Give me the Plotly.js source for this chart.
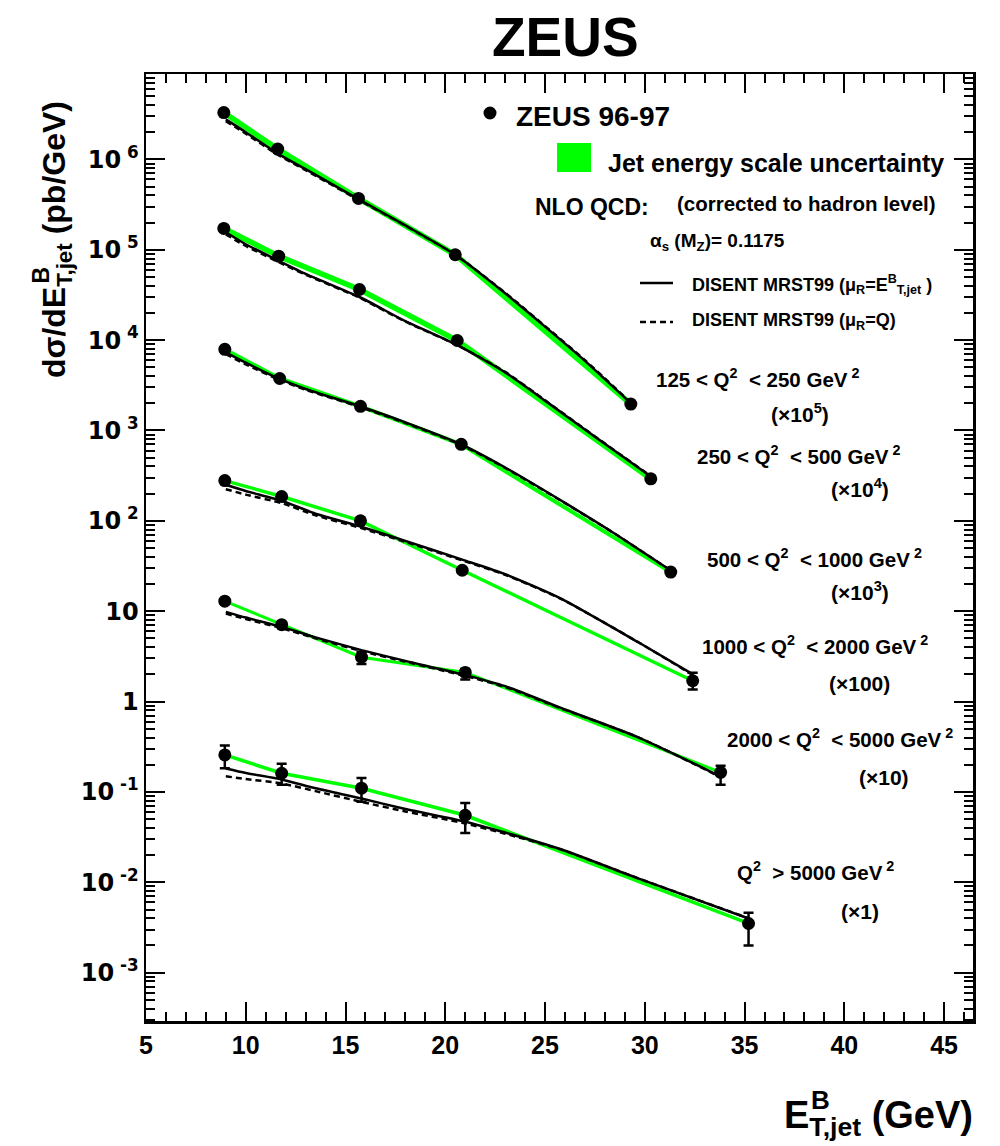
<!DOCTYPE html>
<html>
<head>
<meta charset="utf-8">
<script src="https://cdn.plot.ly/plotly-3.0.1.min.js"></script>
<style>html,body{margin:0;padding:0;background:#fff}#chart{width:1000px;height:1146px}</style>
</head>
<body>
<div id="chart"></div>
<script>
// ---- data (values as plotted, already scaled by the factor in each label) ----
const groupLabels = ["125 < Q<sup>2</sup>  < 250 GeV<sup> 2</sup>", "250 < Q<sup>2</sup>  < 500 GeV<sup> 2</sup>",
  "500 < Q<sup>2</sup>  < 1000 GeV<sup> 2</sup>", "1000 < Q<sup>2</sup>  < 2000 GeV<sup> 2</sup>",
  "2000 < Q<sup>2</sup>  < 5000 GeV<sup> 2</sup>", "Q<sup>2</sup>  > 5000 GeV<sup> 2</sup>"];
const scaleLabels = ["(×10<sup>5</sup>)", "(×10<sup>4</sup>)", "(×10<sup>3</sup>)", "(×100)", "(×10)", "(×1)"];

// measured points
const etG1 = [8.9, 11.6, 15.65, 20.5, 29.3];
const xsG1 = [3.3e6, 1.30e6, 3.7e5, 8.8e4, 1.96e3];
const etG2 = [8.9, 11.65, 15.7, 20.6, 30.3];
const xsG2 = [1.72e5, 8.5e4, 3.63e4, 9.9e3, 292];
const etG3 = [8.95, 11.7, 15.75, 20.8, 31.3];
const xsG3 = [7.9e3, 3.76e3, 1.85e3, 703, 27.1];
const etG4 = [8.95, 11.8, 15.75, 20.85, 32.4];
const xsG4 = [279, 186, 100, 28.4, 1.7];
const etG5 = [8.95, 11.8, 15.8, 21.0, 33.8];
const xsG5 = [12.9, 7.1, 3.1, 2.1, 0.165];
const etG6 = [8.95, 11.8, 15.8, 21.0, 35.2];
const xsG6 = [0.257, 0.161, 0.110, 0.0552, 0.0035];

// statistical errors (up / down)
const errUpG1 = [0, 0, 0, 0, 0];          const errDnG1 = [0, 0, 0, 0, 0];
const errUpG2 = [0, 0, 0, 0, 0];          const errDnG2 = [0, 0, 0, 0, 0];
const errUpG3 = [0, 0, 0, 0, 0];          const errDnG3 = [0, 0, 0, 0, 0];
const errUpG4 = [0, 0, 0, 0, 0.38];       const errDnG4 = [0, 0, 0, 0, 0.34];
const errUpG5 = [0, 0, 0.45, 0.2, 0.03];  const errDnG5 = [0, 0, 0.5, 0.35, 0.045];
const errUpG6 = [0.07, 0.044, 0.033, 0.02, 0.0011]; const errDnG6 = [0.074, 0.041, 0.032, 0.02, 0.0015];

// NLO QCD: DISENT MRST99, mu_R = E_T (solid) and mu_R = Q (dashed)
const thEtG1 = [9.0, 10, 11.6, 13, 15.65, 18, 20.5, 23, 25, 27, 29.3];
const thSolidG1 = [2.77e6, 2.0e6, 1.16e6, 7.8e5, 3.63e5, 1.86e5, 8.8e4, 3.3e4, 1.41e4, 5.9e3, 2.0e3];
const thDashG1  = [2.65e6, 1.93e6, 1.13e6, 7.6e5, 3.57e5, 1.84e5, 8.8e4, 3.35e4, 1.43e4, 6.0e3, 2.03e3];
const thEtG2 = [9.0, 10, 11.65, 13, 15.7, 18, 20.6, 23, 25, 27.5, 30.3];
const thSolidG2 = [1.56e5, 1.15e5, 7.55e4, 5.4e4, 3.0e4, 1.62e4, 8.8e3, 4.4e3, 2.14e3, 850, 309];
const thDashG2  = [1.48e5, 1.10e5, 7.3e4, 5.3e4, 2.95e4, 1.6e4, 8.8e3, 4.45e3, 2.16e3, 860, 312];
const thEtG3 = [9.0, 10, 11.7, 13, 15.75, 18, 20.8, 23, 26, 28.5, 31.3];
const thSolidG3 = [7.33e3, 5.62e3, 3.72e3, 2.88e3, 1.84e3, 1.23e3, 700, 389, 158, 72, 28.2];
const thDashG3  = [7.0e3, 5.4e3, 3.62e3, 2.82e3, 1.81e3, 1.21e3, 690, 385, 157, 72, 28.2];
const thEtG4 = [9.0, 10, 11.8, 13.5, 15.75, 18, 20.85, 23, 25.8, 29.7, 32.35];
const thSolidG4 = [251, 214, 167, 120, 86.5, 60, 37.2, 25.7, 13.8, 4.5, 2.04];
const thDashG4  = [224, 195, 157, 115, 83.5, 58.5, 36.5, 25.3, 13.7, 4.5, 2.0];
const thEtG5 = [9.0, 10, 11.8, 13.5, 15.8, 18, 21.0, 23, 25.8, 29.7, 33.8];
const thSolidG5 = [9.84, 8.5, 6.71, 5.13, 3.71, 2.82, 1.96, 1.48, 0.85, 0.40, 0.148];
const thDashG5  = [9.4, 8.2, 6.5, 5.0, 3.62, 2.76, 1.92, 1.45, 0.84, 0.40, 0.146];
const thEtG6 = [9.0, 10, 11.8, 13.5, 15.8, 18, 21.0, 23, 25.8, 29.7, 35.2];
const thSolidG6 = [0.1816, 0.162, 0.1374, 0.1096, 0.0845, 0.0646, 0.0468, 0.0355, 0.0232, 0.01096, 0.00398];
const thDashG6  = [0.149, 0.139, 0.124, 0.102, 0.0776, 0.0608, 0.0448, 0.0345, 0.0230, 0.0110, 0.0040];

const yTickVals = [1e-3, 1e-2, 1e-1, 1, 10, 100, 1e3, 1e4, 1e5, 1e6];
const yTickText = ["10<sup> -3</sup>", "10<sup> -2</sup>", "10<sup> -1</sup>", "1", "10",
  "10<sup> 2</sup>", "10<sup> 3</sup>", "10<sup> 4</sup>", "10<sup> 5</sup>", "10<sup> 6</sup>"];

// ---- build ----
const groups = [
  {et: etG1, xs: xsG1, up: errUpG1, dn: errDnG1, thEt: thEtG1, sol: thSolidG1, dsh: thDashG1, bw: 5.5},
  {et: etG2, xs: xsG2, up: errUpG2, dn: errDnG2, thEt: thEtG2, sol: thSolidG2, dsh: thDashG2, bw: 5.5},
  {et: etG3, xs: xsG3, up: errUpG3, dn: errDnG3, thEt: thEtG3, sol: thSolidG3, dsh: thDashG3, bw: 4},
  {et: etG4, xs: xsG4, up: errUpG4, dn: errDnG4, thEt: thEtG4, sol: thSolidG4, dsh: thDashG4, bw: 3.5},
  {et: etG5, xs: xsG5, up: errUpG5, dn: errDnG5, thEt: thEtG5, sol: thSolidG5, dsh: thDashG5, bw: 3},
  {et: etG6, xs: xsG6, up: errUpG6, dn: errDnG6, thEt: thEtG6, sol: thSolidG6, dsh: thDashG6, bw: 3.5}
];
const GREEN = "#00ff00";
const traces = [];
groups.forEach(g => traces.push({x: g.et, y: g.xs, mode: "lines", line: {color: GREEN, width: g.bw}, hoverinfo: "skip"}));
groups.forEach(g => traces.push({x: g.thEt, y: g.dsh, mode: "lines", line: {color: "#000", width: 2.5, dash: "6px,4px", shape: "spline", smoothing: 0.6}}));
groups.forEach(g => traces.push({x: g.thEt, y: g.sol, mode: "lines", line: {color: "#000", width: 2.5, shape: "spline", smoothing: 0.6}}));
groups.forEach(g => traces.push({x: g.et, y: g.xs, mode: "markers",
  marker: {color: "#000", size: 13, symbol: "circle"},
  error_y: {type: "data", symmetric: false, array: g.up, arrayminus: g.dn, color: "#000", thickness: 2.5, width: 5}}));

// pixel -> paper helpers (plot area 146..973 x 74..1021)
const L = 146, R = 973, T = 74, B = 1021;
const PX = x => (x - L) / (R - L);
const PY = y => (B - y) / (B - T);
const FONT = "Liberation Sans, Arial, Helvetica, sans-serif";

const ann = [];
function txt(text, x, y, size, anchor, extra) {
  ann.push(Object.assign({text: text, xref: "paper", yref: "paper", x: PX(x), y: PY(y),
    xanchor: anchor || "left", yanchor: "middle", showarrow: false,
    font: {family: FONT, size: size, color: "#000", weight: "bold"}}, extra || {}));
}
// title & axis titles (superscript B stacked over the subscript)
txt("ZEUS", 565, 37, 55, "center");
txt("dσ/dE<sub>T,jet</sub> (pb/GeV)", 56, 240, 32, "center", {textangle: -90});
txt("B", 40, 286, 23, "center", {textangle: -90, yanchor: "bottom"});
txt("E<sub>T,jet</sub> (GeV)", 975, 1118, 38, "right");
txt("B", 809, 1100, 26, "left");
// legend
txt("ZEUS 96-97", 514, 117, 28);
txt("Jet energy scale uncertainty", 606, 163, 25);
txt("NLO QCD:", 533, 207, 23);
txt("(corrected to hadron level)", 675, 204, 20.5);
txt("α<sub>s</sub> (M<sub>Z</sub>)= 0.1175", 648, 242, 19);
txt("DISENT MRST99 (μ<sub>R</sub>=E<sup>B</sup><sub>T,jet</sub> )", 690, 284, 18);
txt("DISENT MRST99 (μ<sub>R</sub>=Q)", 690, 322, 18);
// group labels
const labelPos = [[757, 378, 800, 413], [798, 455, 860, 488], [814, 558, 860, 591],
                  [815, 645, 859, 683], [840, 738, 884, 777], [815, 871, 860, 911]];
groupLabels.forEach((t, i) => {
  const p = labelPos[i];
  txt(t, p[0], p[1], 20.5, "center");
  txt(scaleLabels[i], p[2], p[3], 21, "center");
});

const shapes = [
  {type: "circle", xref: "paper", yref: "paper", x0: PX(483.5), x1: PX(496.5), y0: PY(119.5), y1: PY(106.5),
   fillcolor: "#000", line: {width: 0}},
  {type: "rect", xref: "paper", yref: "paper", x0: PX(557), x1: PX(591), y0: PY(172), y1: PY(143),
   fillcolor: GREEN, line: {width: 0}},
  {type: "line", xref: "paper", yref: "paper", x0: PX(640), x1: PX(673), y0: PY(283), y1: PY(283),
   line: {color: "#000", width: 2.5}},
  {type: "line", xref: "paper", yref: "paper", x0: PX(640), x1: PX(673), y0: PY(322), y1: PY(322),
   line: {color: "#000", width: 2.5, dash: "6px,4px"}}
];

const yMinor = [];
for (let k = -4; k <= 6; k++) for (let d = 2; d <= 9; d++) yMinor.push(d * Math.pow(10, k));

const layout = {
  width: 1000, height: 1146,
  margin: {l: L, r: 1000 - R, t: T, b: 1146 - B},
  paper_bgcolor: "#fff", plot_bgcolor: "#fff",
  showlegend: false,
  font: {family: FONT, color: "#000"},
  xaxis: {range: [5, 46.45], showgrid: false, zeroline: false,
    showline: true, linecolor: "#000", linewidth: 2.5, mirror: "allticks",
    ticks: "inside", ticklen: 19, tickwidth: 2, tickcolor: "#000",
    tickmode: "linear", tick0: 5, dtick: 5,
    tickfont: {family: FONT, size: 25, weight: "bold"},
    minor: {ticks: "inside", ticklen: 9, tickwidth: 2, tickcolor: "#000", dtick: 1, tick0: 5, showgrid: false}},
  yaxis: {type: "log", range: [-3.535, 6.945], showgrid: false, zeroline: false,
    showline: true, linecolor: "#000", linewidth: 2.5, mirror: "allticks",
    ticks: "inside", ticklen: 19, tickwidth: 2, tickcolor: "#000",
    tickmode: "array", tickvals: yTickVals, ticktext: yTickText,
    tickfont: {family: "DejaVu Sans, " + FONT, size: 24, weight: "bold"},
    minor: {ticks: "inside", ticklen: 9, tickwidth: 2, tickcolor: "#000", tickmode: "array", tickvals: yMinor, showgrid: false}},
  annotations: ann,
  shapes: shapes
};
Plotly.newPlot("chart", traces, layout, {staticPlot: true, displayModeBar: false});
</script>
</body>
</html>
